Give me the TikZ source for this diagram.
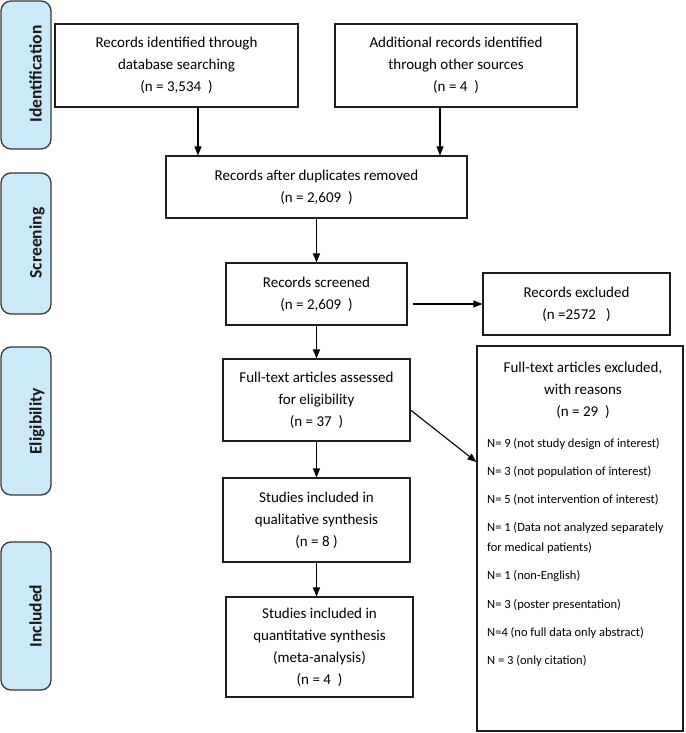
\documentclass[tikz,border=0pt]{standalone}
\usepackage{fontspec}
\setmainfont{Carlito}
\usetikzlibrary{arrows.meta,calc}
\definecolor{sidefill}{RGB}{204,233,250}
\definecolor{sideline}{RGB}{55,55,55}
\definecolor{boxline}{RGB}{30,30,30}
\begin{document}
\begin{tikzpicture}[x=1pt,y=-1pt,
  box/.style={draw=boxline,line width=1.1pt,fill=white,align=center,inner sep=0pt,font=\fontsize{15}{22}\selectfont},
  plain/.style={align=center,inner sep=0pt,font=\fontsize{15}{22}\selectfont},
  side/.style={draw=sideline,fill=sidefill,line width=1.3pt,rounded corners=10pt,inner sep=0pt},
  sidelabel/.style={font=\fontsize{17.5}{20}\selectfont\bfseries,rotate=90,anchor=base,inner sep=0pt,text=black!90},
  arr/.style={-{Triangle[length=9pt,width=7pt]},line width=1.1pt,draw=black},
  item/.style={anchor=base west,inner sep=0pt,font=\fontsize{12.5}{16}\selectfont}]
\useasboundingbox (0,0) rectangle (685,733);
% sidebars
\node[side,minimum width=50,minimum height=148] (s1) at (26,75) {};
\node[side,minimum width=50,minimum height=141] (s2) at (26,243.5) {};
\node[side,minimum width=50,minimum height=148] (s3) at (26,421) {};
\node[side,minimum width=50,minimum height=148] (s4) at (26,616) {};
\node[sidelabel] (l1) at (41.5,74) {Identification};
\node[sidelabel] (l2) at (41.5,243) {Screening};
\node[sidelabel] (l3) at (41.5,421.5) {Eligibility};
\node[sidelabel] (l4) at (41.5,616) {Included};
% boxes
\node[box,minimum width=243,minimum height=83] (id1) at (176.5,65.5) {Records identified through\\database searching\\(n = 3,534~~)};
\node[box,minimum width=242,minimum height=83] (id2) at (456,65.5) {Additional records identified\\through other sources\\(n = 4~~)};
\node[box,minimum width=301,minimum height=62] (dup) at (316.5,187) {Records after duplicates removed\\(n = 2,609~~)};
\node[box,minimum width=181,minimum height=62] (scr) at (316.5,294) {Records screened\\(n = 2,609~~)};
\node[box,minimum width=187,minimum height=62] (exc) at (576.5,304) {Records excluded\\(n =2572~~~)};
\node[box,minimum width=187,minimum height=82] (full) at (316.5,400) {Full-text articles assessed\\for eligibility\\(n = 37~~)};
\node[box,minimum width=187,minimum height=84] (qual) at (316.5,520) {Studies included in\\qualitative synthesis\\(n = 8 )};
\node[box,minimum width=187,minimum height=100] (quan) at (319.5,647) {Studies included in\\quantitative synthesis\\(meta-analysis)\\(n = 4~~)};
\node[box,minimum width=206,minimum height=385] (excl2) at (580,538.5) {};
\node[plain] (exct) at (583,390) {Full-text articles excluded,\\with reasons\\(n = 29~~)};
\node[item] (r1) at (487,447) {N= 9 (not study design of interest)};
\node[item] (r2) at (487,475) {N= 3 (not population of interest)};
\node[item] (r3) at (487,503) {N= 5 (not intervention of interest)};
\node[item] (r4) at (487,531) {N= 1 (Data not analyzed separately};
\node[item] (r4b) at (487,551) {for medical patients)};
\node[item] (r5) at (487,579) {N= 1 (non-English)};
\node[item] (r6) at (487,608) {N= 3 (poster presentation)};
\node[item] (r7) at (487,636) {N=4 (no full data only abstract)};
\node[item] (r8) at (487,664) {N = 3 (only citation)};
% arrows
\draw[arr] ([xshift=21.5pt]id1.south) -- ([xshift=21.5pt]id1.south |- dup.north);
\draw[arr] ([xshift=-16pt]id2.south) -- ([xshift=-16pt]id2.south |- dup.north);
\draw[arr] (dup.south) -- (scr.north);
\draw[arr] ([xshift=5pt]scr.east |- exc.west) -- (exc.west);
\draw[arr] (scr.south) -- (full.north);
\draw[arr] (full.south) -- (qual.north);
\draw[arr] (qual.south) -- (qual.south |- quan.north);
\draw[arr] ([yshift=-10pt]full.east) -- ([yshift=76.5pt]excl2.west);
\end{tikzpicture}
\end{document}
